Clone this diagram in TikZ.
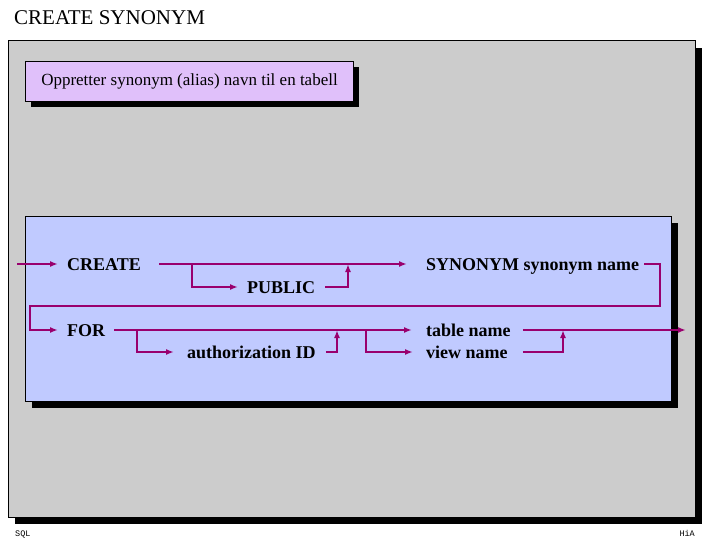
\documentclass[tikz,border=0pt]{standalone}
\usepackage{fontspec}
\setmainfont{Liberation Serif}
\newfontfamily\monof{Liberation Mono}
\usetikzlibrary{arrows.meta}
\definecolor{panelgray}{RGB}{204,204,204}
\definecolor{lavender}{RGB}{224,192,250}
\definecolor{periwinkle}{RGB}{192,202,255}
\definecolor{railcol}{RGB}{153,0,110}
\tikzset{
  panel/.style={draw=black, line width=1pt},
  shadowbox/.style={fill=black},
  lbl/.style={inner sep=0pt, anchor=west, text height=12.5pt, text depth=0pt,
    font=\fontsize{18}{21}\selectfont\bfseries},
  ln/.style={draw=railcol, line width=1.8pt},
  arr/.style={ln, -{Latex[length=8pt,width=6pt]}},
}
\begin{document}
\begin{tikzpicture}[x=1pt,y=-1pt]
\useasboundingbox (0,0) rectangle (720,540);
\fill[white] (0,0) rectangle (720,540);
% title
\node[inner sep=0pt, anchor=base west, font=\fontsize{21}{25}\selectfont] (title) at (14,25) {CREATE SYNONYM};
% gray panel
\fill[shadowbox] (15,48) rectangle (702,524);
\fill[panelgray] (8,41) rectangle (695,517);
\draw[panel] (8,41) rectangle (695,517);
% purple box
\fill[shadowbox] (31,67) rectangle (359,107);
\node[panel, fill=lavender, minimum width=328pt, minimum height=40pt, inner sep=0pt,
  anchor=north west, font=\fontsize{17}{20}\selectfont] (desc) at (25,61)
  {Oppretter synonym (alias) navn til en tabell};
% blue box
\fill[shadowbox] (32,223) rectangle (678,408);
\node[panel, fill=periwinkle, minimum width=646pt, minimum height=185pt, inner sep=0pt,
  anchor=north west] (syntax) at (25,216) {};
% labels
\node[lbl] (create) at (67,264) {CREATE};
\node[lbl] (synonym) at (426,264) {SYNONYM synonym name};
\node[lbl] (public) at (247,287) {PUBLIC};
\node[lbl] (for) at (67,330) {FOR};
\node[lbl] (auth) at (187,352) {authorization ID};
\node[lbl] (table) at (426,330) {table name};
\node[lbl] (view) at (426,352) {view name};
% coordinates
\coordinate (in) at (17,264);
\coordinate (j1) at (192,264);
\coordinate (j2) at (348,264);
\coordinate (r1) at (660,306);
\coordinate (l1) at (30,306);
\coordinate (j3) at (137,330);
\coordinate (j4) at (337,330);
\coordinate (j5) at (366,330);
\coordinate (j6) at (563,330);
\coordinate (out) at (686,330);
% rails
\draw[arr] (in) -- ([xshift=-9pt]create.west);
\draw[arr] ([xshift=18pt]create.east) -- ([xshift=-19pt]synonym.west);
\draw[arr] (j1) |- ([xshift=-9pt]public.west);
\draw[arr] ([xshift=10pt]public.east) -| (j2);
\draw[arr] ([xshift=5pt]synonym.east) -| (r1) -- (l1) |- ([xshift=-9pt]for.west);
\draw[arr] ([xshift=9pt]for.east) -- ([xshift=-14pt]table.west);
\draw[arr] (j3) |- ([xshift=-13pt]auth.west);
\draw[arr] ([xshift=10pt]auth.east) -| (j4);
\draw[arr] (j5) |- ([xshift=-13pt]view.west);
\draw[arr] ([xshift=12pt]table.east) -- (out);
\draw[arr] ([xshift=15pt]view.east) -| (j6);
% footer
\node[inner sep=0pt, anchor=base west, font=\monof\fontsize{8.5}{9}\selectfont] (sql) at (15,536) {SQL};
\node[inner sep=0pt, anchor=base east, font=\monof\fontsize{8.5}{9}\selectfont] (hia) at (695,536) {HiA};
\end{tikzpicture}
\end{document}
